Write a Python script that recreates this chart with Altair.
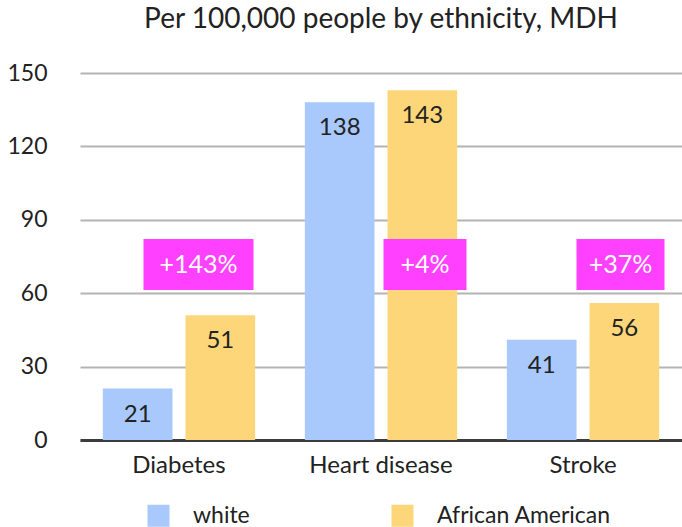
import altair as alt
import pandas as pd

categories = ["Diabetes", "Heart disease", "Stroke"]
groups = ["white", "African American"]
white_values = [21, 138, 41]
aa_values = [51, 143, 56]
pct_labels = ["+143%", "+4%", "+37%"]
y_ticks = [0, 30, 60, 90, 120, 150]

colors = ["#A9C8FC", "#FDD67A"]
magenta = "#FF40FF"
FONT = "Lato"

rows = []
for c, w, a in zip(categories, white_values, aa_values):
    rows.append({"category": c, "group": "white", "value": w})
    rows.append({"category": c, "group": "African American", "value": a})
df = pd.DataFrame(rows)

pct_df = pd.DataFrame({"category": categories, "label": pct_labels})

x_enc = alt.X(
    "category:N", sort=categories,
    scale=alt.Scale(paddingInner=0.246, paddingOuter=0.113),
    axis=alt.Axis(title=None, labelAngle=0, ticks=False, grid=False,
                  domainColor="#3C3C3C", domainWidth=3, labelPadding=13,
                  labelFont=FONT, labelFontSize=24, labelColor="#222222"),
)
xo_enc = alt.XOffset("group:N", sort=groups,
                     scale=alt.Scale(paddingInner=0.157, paddingOuter=0))
y_enc = alt.Y(
    "value:Q", scale=alt.Scale(domain=[0, 150], nice=False),
    axis=alt.Axis(title=None, values=y_ticks, ticks=False, domain=False,
                  grid=True, gridColor="#B4B4B4", gridWidth=2,
                  labelPadding=33, labelFont=FONT, labelFontSize=23,
                  labelColor="#222222"),
)

bars = alt.Chart(df).mark_bar().encode(
    x=x_enc, xOffset=xo_enc, y=y_enc,
    color=alt.Color(
        "group:N", sort=groups,
        scale=alt.Scale(domain=groups, range=colors),
        legend=alt.Legend(
            title=None, orient="none", direction="horizontal",
            legendX=67, legendY=431, padding=0,
            symbolType="square", symbolSize=484, symbolStrokeWidth=0,
            symbolOpacity=1, labelOffset=23, columnPadding=141,
            labelLimit=400,
            labelFont=FONT, labelFontSize=23, labelColor="#222222",
        ),
    ),
)

labels = alt.Chart(df).mark_text(
    baseline="middle", dy=26, font=FONT, fontSize=24, color="#222222",
).encode(x=x_enc, xOffset=xo_enc, y=y_enc, text="value:Q")

box_style = {"Diabetes": (110, 19.5), "Heart disease": (83, 44), "Stroke": (88, 37.5)}
box_layers = []
for cat in categories:
    w, off = box_style[cat]
    sub = alt.Chart(pct_df).transform_filter(alt.datum.category == cat)
    box_layers.append(
        sub.mark_bar(width=w, xOffset=off, color=magenta).encode(
            x=x_enc, y=alt.datum(82.2), y2=alt.datum(61.3)
        )
    )
    box_layers.append(
        sub.mark_text(xOffset=off, baseline="middle", font=FONT, fontSize=25,
                      color="white").encode(
            x=x_enc, y=alt.datum(71.6), text="label:N"
        )
    )

chart = alt.layer(bars, labels, *box_layers).properties(
    width=602, height=367,
    title=alt.TitleParams(
        "Per 100,000 people by ethnicity, MDH", font=FONT, fontSize=28,
        fontWeight="normal", color="#222222", anchor="middle",
        baseline="alphabetic", offset=6,
    ),
    autosize=alt.AutoSizeParams(type="none"),
    padding={"left": 80, "top": 73, "right": 0, "bottom": 87},
    background="white",
).configure_view(stroke=None)

chart.save("out.html", embed_options={"renderer": "svg", "actions": False})
